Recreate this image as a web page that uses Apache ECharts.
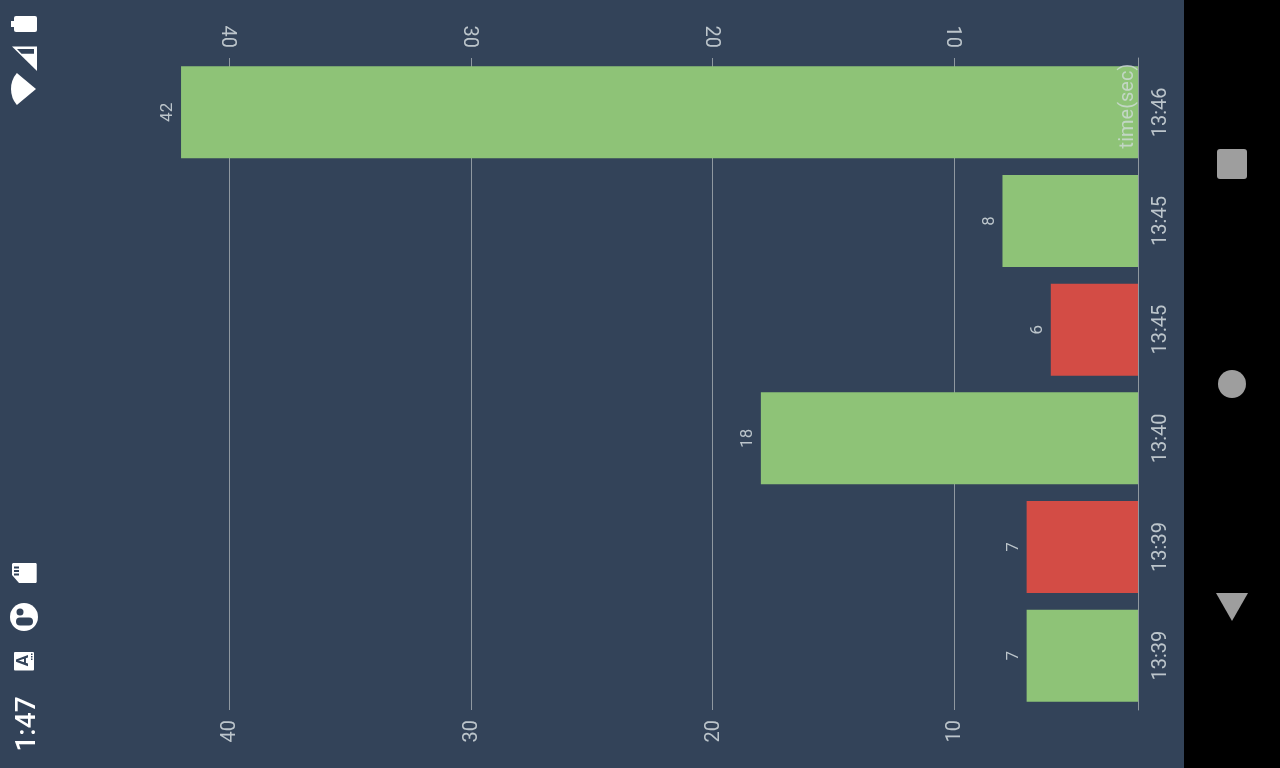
<!DOCTYPE html>
<html>
<head>
<meta charset="utf-8">
<style>html,body{margin:0;padding:0;background:#334359;}#c{width:1280px;height:768px;}</style>
<script src="https://cdn.jsdelivr.net/npm/echarts@6/dist/echarts.min.js"></script>
</head>
<body>
<div id="c"></div>
<script>
const timeLabels = ['13:39', '13:39', '13:40', '13:45', '13:45', '13:46'];
const durations = [7, 7, 18, 6, 8, 42];
const outcomes = ['ok', 'bad', 'ok', 'bad', 'ok', 'ok'];
const valueTicks = [10, 20, 30, 40];
const axisName = 'time(sec)';
const clockText = '1:47';

const BG = '#334359', TXT = '#bcc5cb', LINE = '#8f98a0', ICON = '#ffffff', NAV = '#9e9e9e';
const outcomeColor = { ok: '#8ec377', bad: '#d34c45' };
const MIN = 2.39, MAX = 44.03;

const xAxisBase = (position, vAlign, lineHeight) => ({
  type: 'value', position, inverse: true, min: MIN, max: MAX,
  axisLine: { show: false },
  axisTick: { show: false, customValues: valueTicks },
  splitLine: { show: true, customValues: valueTicks, lineStyle: { color: LINE, width: 1 } },
  axisLabel: {
    customValues: valueTicks, rotate: 90, color: TXT, fontSize: 20,
    fontFamily: 'Roboto', margin: 10, hideOverlap: false, verticalAlign: vAlign, lineHeight
  }
});

const chart = echarts.init(document.getElementById('c'), null, { renderer: 'canvas', width: 1280, height: 768 });
chart.setOption({
  backgroundColor: BG,
  animation: false,
  grid: { left: 132, right: 142, top: 58, bottom: 58, containLabel: false },
  xAxis: [xAxisBase('bottom', 'top', 2), xAxisBase('top', 'top', 4)],
  yAxis: {
    type: 'category', position: 'right', data: timeLabels, z: 5,
    name: axisName, nameLocation: 'end', nameRotate: 90, nameGap: -48,
    nameTextStyle: { color: 'rgba(215,222,226,0.72)', fontSize: 20, fontFamily: 'Roboto', align: 'center', verticalAlign: 'bottom', padding: [0, 0, 0, 0] },
    axisLine: { show: true, lineStyle: { color: LINE, width: 1 } },
    axisTick: { show: false },
    axisLabel: { rotate: 90, color: TXT, fontSize: 20, fontFamily: 'Roboto', margin: 13, align: 'center', verticalAlign: 'top' }
  },
  series: [{
    type: 'bar', xAxisIndex: 0, yAxisIndex: 0, barWidth: 92,
    data: durations,
    itemStyle: { color: (p) => outcomeColor[outcomes[p.dataIndex]] },
    label: {
      show: true, position: 'left', distance: 13, rotate: 90, color: TXT, fontSize: 17,
      fontFamily: 'Roboto', align: 'center', verticalAlign: 'middle'
    }
  }],
  graphic: [
    { type: 'rect', silent: true, z: 10, shape: { x: 1184, y: 0, width: 96, height: 768 }, style: { fill: '#000' } },
    { type: 'rect', silent: true, z: 11, shape: { x: 1217, y: 149, width: 30, height: 30, r: 3 }, style: { fill: NAV } },
    { type: 'circle', silent: true, z: 11, shape: { cx: 1232, cy: 384, r: 14 }, style: { fill: NAV } },
    { type: 'polygon', silent: true, z: 11, shape: { points: [[1216, 593], [1248, 593], [1232, 621]] }, style: { fill: NAV } },
    // battery
    { type: 'rect', silent: true, z: 11, shape: { x: 14, y: 16, width: 23, height: 16, r: 2 }, style: { fill: ICON } },
    { type: 'rect', silent: true, z: 11, shape: { x: 11, y: 21, width: 4, height: 6 }, style: { fill: ICON } },
    // signal
    { type: 'polygon', silent: true, z: 11, shape: { points: [[12, 46.5], [37, 46.5], [37, 71]] }, style: { fill: ICON } },
    { type: 'polygon', silent: true, z: 12, shape: { points: [[17, 49], [34, 49], [34, 53.7], [21.5, 53.7]] }, style: { fill: BG } },
    // wifi
    { type: 'sector', silent: true, z: 11, shape: { cx: 36, cy: 89, r: 25, r0: 0, startAngle: Math.PI * 140 / 180, endAngle: Math.PI * 220 / 180 }, style: { fill: ICON } },
    // sd card
    { type: 'polygon', silent: true, z: 11, shape: { points: [[12, 564], [13, 563], [36, 563], [36.7, 564], [36.7, 582], [36, 583], [19, 583], [12, 575]] }, style: { fill: ICON } },
    { type: 'rect', silent: true, z: 12, shape: { x: 14, y: 566.5, width: 5, height: 2 }, style: { fill: BG } },
    { type: 'rect', silent: true, z: 12, shape: { x: 14, y: 570, width: 5, height: 2 }, style: { fill: BG } },
    { type: 'rect', silent: true, z: 12, shape: { x: 14, y: 573.5, width: 5, height: 2 }, style: { fill: BG } },
    // user
    { type: 'circle', silent: true, z: 11, shape: { cx: 24, cy: 617, r: 14 }, style: { fill: ICON } },
    { type: 'circle', silent: true, z: 12, shape: { cx: 20, cy: 612, r: 3.5 }, style: { fill: BG } },
    { type: 'rect', silent: true, z: 12, shape: { x: 16, y: 617.5, width: 17, height: 8, r: 4 }, style: { fill: BG } },
    // app icon
    { type: 'rect', silent: true, z: 11, shape: { x: 14, y: 652, width: 20, height: 18.5, r: 1 }, style: { fill: ICON } },
    { type: 'text', silent: true, z: 12, x: 24, y: 660.5, rotation: Math.PI / 2, style: { text: 'A', fill: BG, font: '700 17px Roboto', align: 'center', verticalAlign: 'middle' } },
    { type: 'rect', silent: true, z: 12, shape: { x: 31, y: 653.5, width: 1.5, height: 1.5 }, style: { fill: BG } },
    { type: 'rect', silent: true, z: 12, shape: { x: 31, y: 656, width: 1.5, height: 1.5 }, style: { fill: BG } },
    { type: 'rect', silent: true, z: 12, shape: { x: 31, y: 658.5, width: 1.5, height: 1.5 }, style: { fill: BG } },
    // clock
    { type: 'text', silent: true, z: 11, x: 27.5, y: 724, rotation: Math.PI / 2, style: { text: clockText, fill: ICON, font: '500 28px Roboto', align: 'center', verticalAlign: 'middle' } }
  ]
});
</script>
</body>
</html>
